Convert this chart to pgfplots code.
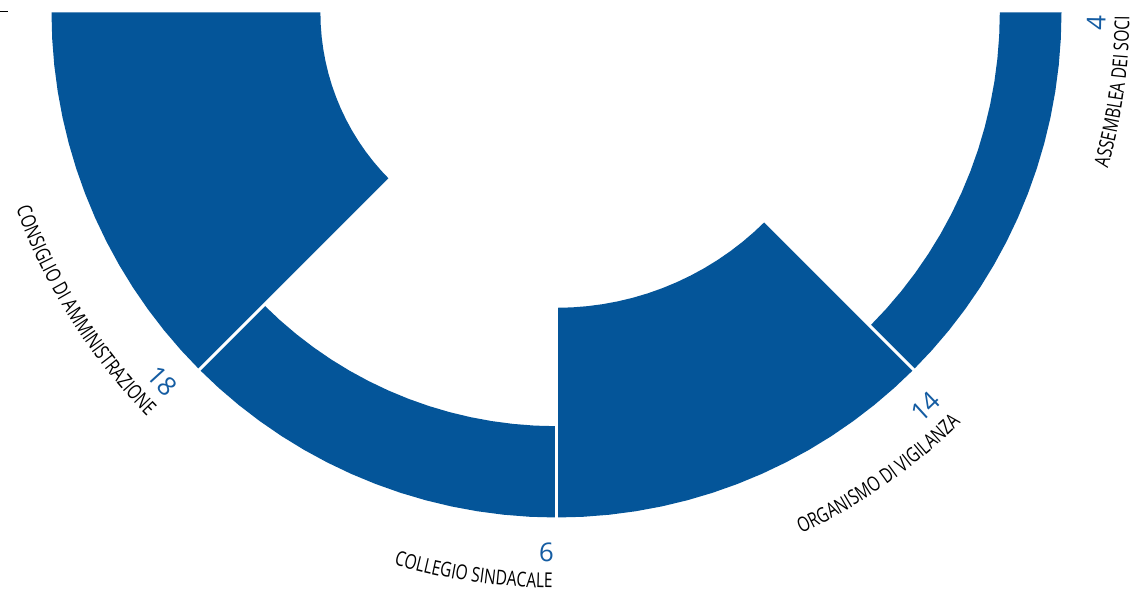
\documentclass[border=0pt]{standalone}
\usepackage{pgfplots}
\pgfplotsset{compat=1.18}
\usepgfplotslibrary{polar}
\usetikzlibrary{decorations.text}
\usepackage{fontspec}
\setmainfont{Liberation Sans}
\newfontfamily\labfont[FakeStretch=0.76]{Open Sans}
\newfontfamily\numfont{Open Sans}
\definecolor{barblue}{RGB}{4,85,153}
\definecolor{numblue}{RGB}{20,92,162}
\newcommand\lab{\labfont\fontsize{20.5}{20.5}\selectfont}
\newcommand\numlab{\numfont\fontsize{26}{26}\selectfont\color{numblue}}

\begin{document}
\begin{tikzpicture}
\begin{axis}[x=1pt, y=1pt, hide axis, scale only axis, clip=false,
  xmin=-556.5, xmax=582.5, ymin=-579.5, ymax=12.5]
% values: Consiglio 18, Collegio 6, Organismo 14, Assemblea 4
% outer radius 505, inner radius = 502.5 - 14.8*value
\addplot[fill=barblue, draw=none, data cs=polar] coordinates {
(180,505) (183,505) (186,505) (189,505) (192,505) (195,505) (198,505) (201,505) (204,505) (207,505) (210,505) (213,505) (216,505) (219,505) (222,505) (225,505)
(225,236.1) (222,236.1) (219,236.1) (216,236.1) (213,236.1) (210,236.1) (207,236.1) (204,236.1) (201,236.1) (198,236.1) (195,236.1) (192,236.1) (189,236.1) (186,236.1) (183,236.1) (180,236.1)
} -- cycle;
\addplot[fill=barblue, draw=none, data cs=polar] coordinates {
(225,505) (228,505) (231,505) (234,505) (237,505) (240,505) (243,505) (246,505) (249,505) (252,505) (255,505) (258,505) (261,505) (264,505) (267,505) (270,505)
(270,413.7) (267,413.7) (264,413.7) (261,413.7) (258,413.7) (255,413.7) (252,413.7) (249,413.7) (246,413.7) (243,413.7) (240,413.7) (237,413.7) (234,413.7) (231,413.7) (228,413.7) (225,413.7)
} -- cycle;
\addplot[fill=barblue, draw=none, data cs=polar] coordinates {
(270,505) (273,505) (276,505) (279,505) (282,505) (285,505) (288,505) (291,505) (294,505) (297,505) (300,505) (303,505) (306,505) (309,505) (312,505) (315,505)
(315,295.3) (312,295.3) (309,295.3) (306,295.3) (303,295.3) (300,295.3) (297,295.3) (294,295.3) (291,295.3) (288,295.3) (285,295.3) (282,295.3) (279,295.3) (276,295.3) (273,295.3) (270,295.3)
} -- cycle;
\addplot[fill=barblue, draw=none, data cs=polar] coordinates {
(315,505) (318,505) (321,505) (324,505) (327,505) (330,505) (333,505) (336,505) (339,505) (342,505) (345,505) (348,505) (351,505) (354,505) (357,505) (360,505)
(360,443.3) (357,443.3) (354,443.3) (351,443.3) (348,443.3) (345,443.3) (342,443.3) (339,443.3) (336,443.3) (333,443.3) (330,443.3) (327,443.3) (324,443.3) (321,443.3) (318,443.3) (315,443.3)
} -- cycle;
% white separators
\addplot[white, line width=3pt, data cs=polar] coordinates {(225,220) (225,512)};
\addplot[white, line width=3pt, data cs=polar] coordinates {(270,280) (270,512)};
\addplot[white, line width=3pt, data cs=polar] coordinates {(315,280) (315,512)};
% small dash top-left
\addplot[black, line width=1.3pt] coordinates {(-556.5,0.8) (-548.5,0.8)};
\coordinate (O) at (axis cs:0,0);
\coordinate (BL) at (axis cs:-556.5,-579.5);
\coordinate (TR) at (axis cs:582.5,12.5);
\end{axis}
% category labels
\path[decorate, decoration={text along path, text align=right,
  text={|\lab|CONSIGLIO DI AMMINISTRAZIONE}}]
  ([shift={(180:575pt)}]O) arc[start angle=180, end angle=224.6, radius=575pt];
\path[decorate, decoration={text along path, text align=right,
  text={|\lab|COLLEGIO SINDACALE}}]
  ([shift={(225:575.5pt)}]O) arc[start angle=225, end angle=269.6, radius=575.5pt];
\path[decorate, decoration={text along path, text align=right,
  text={|\lab|ORGANISMO DI VIGILANZA}}]
  ([shift={(270:576pt)}]O) arc[start angle=270, end angle=314.6, radius=576pt];
\path[decorate, decoration={text along path, text align=right,
  text={|\lab|ASSEMBLEA DEI SOCI}}]
  ([shift={(315:573pt)}]O) arc[start angle=315, end angle=359.6, radius=573pt];
% value labels
\path[decorate, decoration={text along path, text align=right,
  text={|\numlab|18}}]
  ([shift={(200:549pt)}]O) arc[start angle=200, end angle=224.7, radius=549pt];
\path[decorate, decoration={text along path, text align=right,
  text={|\numlab|6}}]
  ([shift={(250:549pt)}]O) arc[start angle=250, end angle=269.7, radius=549pt];
\path[decorate, decoration={text along path, text align=right,
  text={|\numlab|14}}]
  ([shift={(295:549pt)}]O) arc[start angle=295, end angle=314.7, radius=549pt];
\path[decorate, decoration={text along path, text align=right,
  text={|\numlab|4}}]
  ([shift={(340:549pt)}]O) arc[start angle=340, end angle=359.7, radius=549pt];
\pgfresetboundingbox
\useasboundingbox (BL) rectangle (TR);
\end{tikzpicture}
\end{document}
